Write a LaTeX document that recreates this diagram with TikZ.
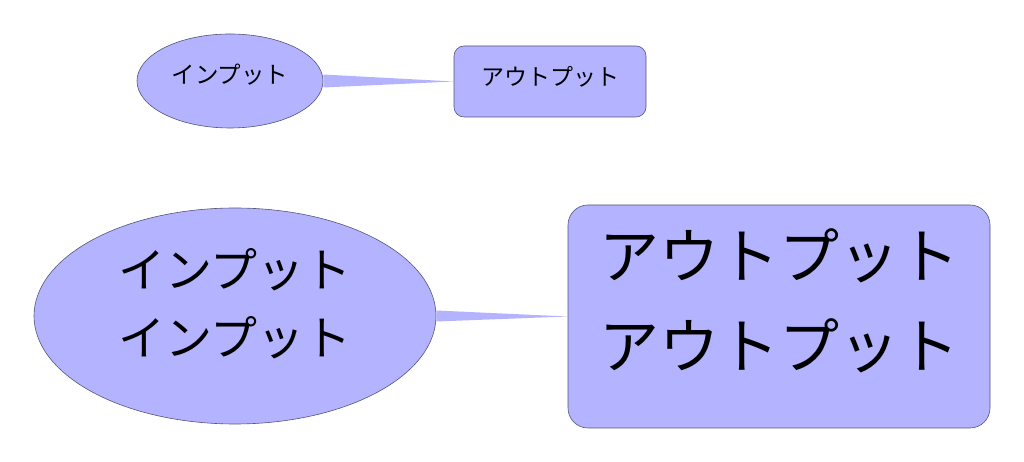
\documentclass[tikz,border=0pt]{standalone}
\usepackage{fontspec}
\newfontfamily\cjk{Noto Sans CJK JP}
\usetikzlibrary{shapes.geometric}
\definecolor{fillc}{HTML}{B3B3FF}
\definecolor{linec}{HTML}{555577}
\begin{document}
\begin{tikzpicture}[x=1pt,y=1pt,
  base/.style={fill=fillc,draw=linec,line width=0.6pt,inner sep=0pt},
  ell/.style={base,ellipse},
  box/.style={base,rectangle,rounded corners=#1},
  txt/.style={inner sep=0pt,align=center,font=\cjk\fontsize{#1}{#1}\selectfont},
  wedge/.style={fill=fillc,draw=none}]
\useasboundingbox (0,0) rectangle (1024,462);
\node[ell,minimum width=186,minimum height=94] (e1) at (230,381) {};
\node[box=10,minimum width=192,minimum height=71] (r1) at (550,380.5) {};
\node[ell,minimum width=402,minimum height=216] (e2) at (235,146) {};
\node[box=20,minimum width=422,minimum height=223] (r2) at (779,145.5) {};
\fill[wedge] ([yshift=6.5]e1.east) -- (r1.west) -- ([yshift=-6.5]e1.east) -- cycle;
\fill[wedge] ([yshift=5.5]e2.east) -- (r2.west) -- ([yshift=-5.5]e2.east) -- cycle;
\node[txt=23.5] (t1) at ([yshift=6]e1.center) {インプット};
\node[txt=23] (t2) at ([yshift=5]r1.center) {アウトプット};
\node[txt=47,font=\cjk\fontsize{47}{68}\selectfont] (t3) at ([yshift=12]e2.center) {インプット\\インプット};
\node[txt=60,font=\cjk\fontsize{60}{90}\selectfont] (t4) at ([yshift=16]r2.center) {アウトプット\\アウトプット};
\end{tikzpicture}
\end{document}
